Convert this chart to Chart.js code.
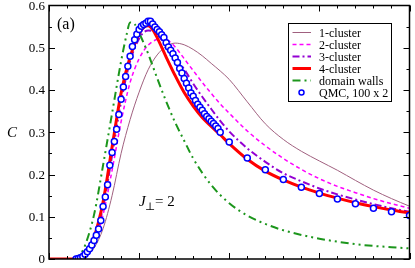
<!DOCTYPE html>
<html>
<head>
<meta charset="utf-8">
<script src="https://cdn.jsdelivr.net/npm/chart.js@4.4.1/dist/chart.umd.min.js"></script>
<style>
  html, body { margin: 0; padding: 0; background: #fff; }
</style>
</head>
<body>
<canvas id="chart" width="415" height="268"></canvas>
<script>
// axis ticks (x axis carries no labels in the original)
const xMajor = [0, 1, 2, 3, 4];
const yMajor = [0, 0.1, 0.2, 0.3, 0.4, 0.5, 0.6];

const legendNames = ["1-cluster", "2-cluster", "3-cluster", "4-cluster", "domain walls", "QMC, 100 x 2"];

// 1-cluster
const mauveT = [0, 0.33, 0.4, 0.5, 0.6, 0.7, 0.8, 0.9, 1.0, 1.1, 1.2, 1.3, 1.4, 1.5, 1.6, 1.7, 1.8, 1.9, 2.0, 2.2, 2.4, 2.6, 2.8, 3.0, 3.2, 3.4, 3.6, 3.8, 4.0];
const mauveC = [0, 0, 0.005, 0.026, 0.072, 0.15, 0.25, 0.33, 0.395, 0.448, 0.483, 0.503, 0.511, 0.507, 0.496, 0.481, 0.463, 0.445, 0.425, 0.372, 0.32, 0.283, 0.255, 0.232, 0.21, 0.186, 0.163, 0.143, 0.125];
// 2-cluster
const magentaT = [0, 0.3, 0.35, 0.4, 0.5, 0.6, 0.7, 0.8, 0.9, 1.0, 1.1, 1.2, 1.25, 1.3, 1.4, 1.5, 1.6, 1.7, 1.8, 1.9, 2.0, 2.2, 2.4, 2.6, 2.8, 3.0, 3.2, 3.4, 3.6, 3.8, 4.0];
const magentaC = [0, 0, 0.003, 0.009, 0.037, 0.105, 0.21, 0.325, 0.418, 0.474, 0.506, 0.52, 0.522, 0.52, 0.502, 0.474, 0.446, 0.418, 0.392, 0.367, 0.345, 0.303, 0.268, 0.238, 0.212, 0.19, 0.172, 0.157, 0.143, 0.131, 0.12];
// 3-cluster
const purpleT = [0, 0.28, 0.35, 0.4, 0.5, 0.6, 0.7, 0.8, 0.9, 1.0, 1.05, 1.1, 1.15, 1.2, 1.3, 1.4, 1.5, 1.6, 1.7, 1.8, 1.9, 2.0, 2.2, 2.4, 2.6, 2.8, 3.0, 3.2, 3.4, 3.6, 3.8, 4.0];
const purpleC = [0, 0, 0.004, 0.012, 0.046, 0.122, 0.245, 0.372, 0.468, 0.522, 0.536, 0.541, 0.539, 0.531, 0.506, 0.476, 0.449, 0.415, 0.384, 0.355, 0.327, 0.302, 0.262, 0.23, 0.203, 0.184, 0.167, 0.153, 0.141, 0.13, 0.12, 0.112];
// 4-cluster
const redT = [0, 0.28, 0.35, 0.4, 0.5, 0.6, 0.7, 0.8, 0.9, 1.0, 1.05, 1.1, 1.15, 1.2, 1.3, 1.4, 1.5, 1.6, 1.7, 1.8, 1.9, 2.0, 2.2, 2.4, 2.6, 2.8, 3.0, 3.2, 3.4, 3.6, 3.8, 4.0];
const redC = [0, 0, 0.005, 0.014, 0.052, 0.135, 0.265, 0.393, 0.478, 0.533, 0.548, 0.552, 0.543, 0.524, 0.478, 0.434, 0.394, 0.362, 0.335, 0.314, 0.294, 0.273, 0.236, 0.208, 0.187, 0.17, 0.156, 0.144, 0.133, 0.124, 0.116, 0.109];
// domain walls
const greenT = [0, 0.28, 0.35, 0.4, 0.5, 0.6, 0.7, 0.8, 0.86, 0.9, 0.95, 1.0, 1.1, 1.2, 1.3, 1.4, 1.5, 1.6, 1.8, 2.0, 2.2, 2.4, 2.6, 2.8, 3.0, 3.2, 3.4, 3.6, 3.8, 4.0];
const greenC = [0, 0, 0.012, 0.032, 0.105, 0.222, 0.345, 0.468, 0.53, 0.56, 0.556, 0.535, 0.486, 0.428, 0.373, 0.323, 0.28, 0.238, 0.175, 0.132, 0.103, 0.083, 0.068, 0.057, 0.048, 0.041, 0.035, 0.031, 0.028, 0.025];
// QMC, 100 x 2
const qmcT = [0.3, 0.325, 0.35, 0.375, 0.4, 0.425, 0.45, 0.475, 0.5, 0.525, 0.55, 0.575, 0.6, 0.625, 0.65, 0.675, 0.7, 0.725, 0.75, 0.775, 0.8, 0.825, 0.85, 0.875, 0.9, 0.925, 0.95, 0.975, 1.0, 1.025, 1.05, 1.075, 1.1, 1.125, 1.15, 1.175, 1.2, 1.225, 1.25, 1.275, 1.3, 1.325, 1.35, 1.375, 1.4, 1.425, 1.45, 1.475, 1.5, 1.525, 1.55, 1.575, 1.6, 1.625, 1.65, 1.675, 1.7, 1.725, 1.75, 1.775, 1.8, 1.825, 1.85, 1.875, 1.9, 2.0, 2.2, 2.4, 2.6, 2.8, 3.0, 3.2, 3.4, 3.6, 3.8, 4.0];
const qmcC = [0, 0.001, 0.003, 0.006, 0.011, 0.017, 0.024, 0.033, 0.044, 0.056, 0.071, 0.091, 0.124, 0.147, 0.176, 0.222, 0.252, 0.278, 0.307, 0.342, 0.378, 0.407, 0.432, 0.456, 0.48, 0.503, 0.519, 0.532, 0.543, 0.551, 0.555, 0.558, 0.563, 0.563, 0.556, 0.549, 0.543, 0.538, 0.531, 0.524, 0.512, 0.502, 0.494, 0.486, 0.476, 0.465, 0.451, 0.44, 0.427, 0.416, 0.405, 0.393, 0.385, 0.375, 0.366, 0.359, 0.352, 0.344, 0.337, 0.332, 0.326, 0.321, 0.315, 0.309, 0.3, 0.277, 0.239, 0.211, 0.188, 0.17, 0.155, 0.142, 0.131, 0.12, 0.112, 0.103];

const pairs = (xs, ys) => xs.map((x, i) => ({ x: x, y: ys[i] }));
const serif = "'Liberation Serif', 'DejaVu Serif', serif";

const curveStyles = [
    { color: "#a0607f", width: 1, dash: [] },
    { color: "#ff00ff", width: 1.5, dash: [4, 3] },
    { color: "#9400d3", width: 2, dash: [7, 3, 2, 3] },
    { color: "#ff0000", width: 3, dash: [] },
    { color: "#1c961c", width: 2, dash: [8, 4, 2, 4, 2, 4] }
];

function lineSet(i, xs, ys, order) {
    const s = curveStyles[i];
    return {
        label: legendNames[i],
        data: pairs(xs, ys),
        borderColor: s.color,
        borderWidth: s.width,
        borderDash: s.dash,
        pointRadius: 0,
        fill: false,
        cubicInterpolationMode: "monotone",
        order: order
    };
}

const overlay = {
    id: "overlay",
    afterDraw(chart) {
        const ctx = chart.ctx;
        const xs = chart.scales.x, ys = chart.scales.y;
        const a = chart.chartArea;
        ctx.save();
        ctx.strokeStyle = "#000";
        ctx.fillStyle = "#000";

        // inward ticks on all four sides
        ctx.lineWidth = 1;
        ctx.beginPath();
        for (let k = 0; k <= 20; k++) {
            const v = k * 0.2;
            const px = Math.round(xs.getPixelForValue(v)) + 0.5;
            const len = k % 5 === 0 ? 6 : 3;
            ctx.moveTo(px, a.bottom); ctx.lineTo(px, a.bottom - len);
            ctx.moveTo(px, a.top); ctx.lineTo(px, a.top + len);
        }
        for (let k = 0; k <= 12; k++) {
            const v = k * 0.05;
            const py = Math.round(ys.getPixelForValue(v)) + 0.5;
            const len = k % 2 === 0 ? 6 : 3;
            ctx.moveTo(a.left, py); ctx.lineTo(a.left + len, py);
            ctx.moveTo(a.right, py); ctx.lineTo(a.right - len, py);
        }
        ctx.stroke();

        // frame
        ctx.lineWidth = 1.5;
        ctx.strokeRect(a.left, a.top, a.right - a.left, a.bottom - a.top);

        // y tick labels
        ctx.font = "13px " + serif;
        ctx.textAlign = "right";
        ctx.textBaseline = "middle";
        yMajor.forEach(v => {
            ctx.fillText(String(v), a.left - 4, ys.getPixelForValue(v) + 1);
        });

        // axis title
        ctx.font = "italic 15px " + serif;
        ctx.textAlign = "center";
        ctx.fillText("C", 12, 133);

        // panel label and parameter
        ctx.textAlign = "left";
        ctx.textBaseline = "alphabetic";
        ctx.font = "16px " + serif;
        ctx.fillText("(a)", 57, 29);
        ctx.font = "italic 15px " + serif;
        ctx.fillText("J", 139, 206);
        ctx.font = "11px " + serif;
        ctx.fillText("\u22a5", 145, 210);
        ctx.font = "15px " + serif;
        ctx.fillText("= 2", 155, 206);

        // legend
        const bx = 288.5, by = 23.5, bw = 103, bh = 78;
        ctx.fillStyle = "#fff";
        ctx.fillRect(bx, by, bw, bh);
        ctx.lineWidth = 1;
        ctx.strokeStyle = "#000";
        ctx.strokeRect(bx, by, bw, bh);
        ctx.font = "12px " + serif;
        ctx.textBaseline = "middle";
        for (let i = 0; i < legendNames.length; i++) {
            const yy = 32.5 + i * 12;
            if (i < 5) {
                const s = curveStyles[i];
                ctx.strokeStyle = s.color;
                ctx.lineWidth = s.width;
                ctx.setLineDash(s.dash);
                ctx.beginPath();
                ctx.moveTo(292.5, yy);
                ctx.lineTo(311, yy);
                ctx.stroke();
                ctx.setLineDash([]);
            } else {
                ctx.strokeStyle = "#0000ff";
                ctx.lineWidth = 1.5;
                ctx.beginPath();
                ctx.arc(301.5, yy, 2.5, 0, Math.PI * 2);
                ctx.stroke();
            }
            ctx.fillStyle = "#000";
            ctx.fillText(legendNames[i], 319, yy + 1);
        }
        ctx.restore();
    }
};

new Chart(document.getElementById("chart"), {
    type: "line",
    data: {
        datasets: [
            lineSet(0, mauveT, mauveC, 5),
            lineSet(1, magentaT, magentaC, 4),
            lineSet(2, purpleT, purpleC, 3),
            lineSet(4, greenT, greenC, 2),
            lineSet(3, redT, redC, 1),
            {
                label: legendNames[5],
                data: pairs(qmcT, qmcC),
                showLine: false,
                pointRadius: 3,
                pointBorderWidth: 1.5,
                pointBorderColor: "#0000ff",
                pointBackgroundColor: "#ffffff",
                order: 0
            }
        ]
    },
    options: {
        responsive: false,
        animation: false,
        devicePixelRatio: 1,
        layout: { padding: { left: 49, right: 3, top: 5, bottom: 9 } },
        scales: {
            x: { type: "linear", min: 0, max: 4, display: false },
            y: { type: "linear", min: 0, max: 0.6, display: false }
        },
        plugins: {
            legend: { display: false },
            tooltip: { enabled: false }
        }
    },
    plugins: [overlay]
});
</script>
</body>
</html>
